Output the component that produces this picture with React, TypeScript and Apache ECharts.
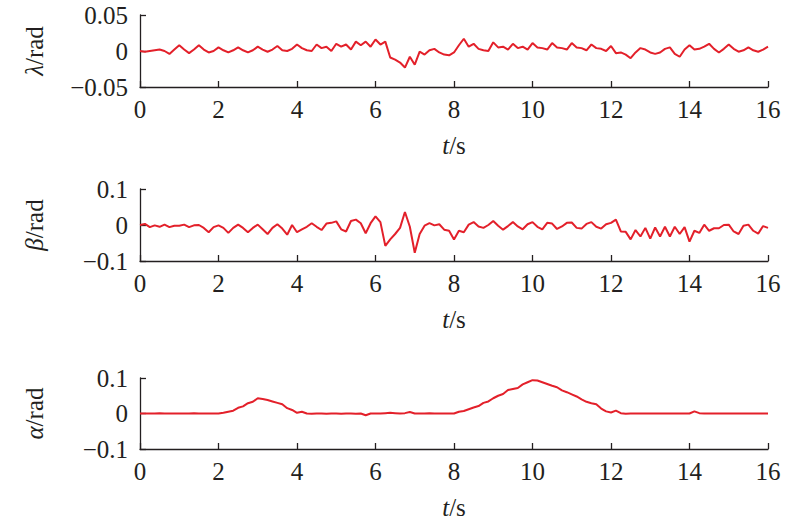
import React, { useEffect, useRef } from "react";
import * as echarts from "echarts";

// sampling step of the recorded signals (s)
const timeStep = 0.125;

// λ (rad)
const lambdaValues = [
  0, -0.001, 0, 0.001, 0.002, 0, -0.004, 0.002, 0.008,
  0.002, -0.003, 0.002, 0.008, 0.002, -0.002, 0, 0.005,
  0.001, -0.002, 0.001, 0.005, 0.001, -0.002, 0.001, 0.006,
  0.002, -0.001, 0.002, 0.007, 0.001, 0, 0.003, 0.009,
  0.004, 0.001, 0, 0.009, 0.004, 0.006, 0, 0.010,
  0.006, 0.009, 0.002, 0.013, 0.008, 0.013, 0.006, 0.016,
  0.009, 0.013, -0.009, -0.012, -0.016, -0.023, -0.008, -0.019,
  -0.001, -0.005, 0.001, 0.003, -0.002, -0.005, -0.006, -0.002,
  0.008, 0.017, 0.006, 0.010, 0.003, 0.001, 0, 0.012,
  0.005, 0.006, 0.002, 0.010, 0.004, 0.006, 0.002, 0.011,
  0.005, 0.004, 0.002, 0.011, 0.005, 0.004, 0.002, 0.011,
  0.005, 0.004, 0.001, 0.009, 0.004, 0.003, 0, 0.007,
  -0.003, -0.002, -0.005, -0.010, -0.002, 0.004, 0.002, -0.002,
  -0.004, -0.002, 0.003, 0.005, -0.004, -0.008, 0.002, 0.008,
  0.002, 0.003, 0.006, 0.010, 0.003, -0.002, 0.003, 0.009,
  0.003, -0.001, 0.001, 0.005, 0.001, -0.001, 0.002, 0.006,
];

// β (rad)
const betaValues = [
  0, 0.003, -0.006, -0.001, -0.005, 0.001, -0.006, -0.002, -0.002,
  0.001, -0.006, -0.001, 0, -0.008, -0.020, -0.006, -0.001,
  -0.008, -0.022, -0.008, 0.001, -0.008, -0.020, -0.008, 0.001,
  -0.012, -0.025, -0.008, 0.002, -0.010, -0.027, 0, -0.020,
  -0.012, -0.005, 0.005, -0.005, -0.014, 0.004, 0.006, 0.010,
  -0.012, -0.018, 0.011, 0.015, 0.005, -0.023, 0.005, 0.024,
  0.008, -0.058, -0.040, -0.025, -0.008, 0.036, -0.005, -0.077,
  -0.025, -0.002, 0.005, -0.001, 0.002, -0.013, -0.016, -0.040,
  -0.016, -0.020, 0.001, 0.008, -0.004, -0.008, 0, 0.011,
  -0.002, -0.013, -0.003, 0.008, -0.004, -0.012, 0.002, 0.008,
  -0.005, -0.012, 0.006, 0.004, -0.011, -0.004, 0.006, 0.007,
  -0.008, -0.010, 0.003, 0.008, -0.005, -0.010, 0.002, 0.006,
  0.015, -0.018, -0.019, -0.040, -0.014, -0.032, -0.008, -0.038,
  -0.007, -0.032, -0.005, -0.032, -0.005, -0.025, -0.006, -0.046,
  -0.016, -0.022, 0.001, -0.016, -0.009, -0.009, 0, 0.001,
  -0.018, -0.025, -0.002, 0.001, -0.016, -0.024, -0.003, -0.008,
];

// α (rad)
const alphaValues = [
  0, 0, 0, 0, 0.001, 0, 0, 0, 0,
  0, 0, 0.001, 0, 0, 0, 0, 0,
  0.002, 0.005, 0.008, 0.016, 0.020, 0.029, 0.033, 0.043,
  0.041, 0.038, 0.034, 0.030, 0.026, 0.015, 0.010, 0.002,
  0.005, 0, -0.001, 0, 0, -0.001, 0, 0,
  -0.001, 0, 0, -0.001, 0, -0.005, 0, 0,
  0, 0.001, 0.002, 0.001, 0, 0.001, 0.004, 0,
  0, 0, 0.001, 0, 0, 0, 0, 0,
  0.005, 0.007, 0.012, 0.017, 0.021, 0.030, 0.034, 0.043,
  0.050, 0.055, 0.066, 0.069, 0.072, 0.082, 0.088, 0.094,
  0.093, 0.088, 0.083, 0.078, 0.074, 0.065, 0.060, 0.054,
  0.048, 0.040, 0.033, 0.029, 0.026, 0.014, 0.006, 0.003,
  0.008, 0.001, -0.001, 0, 0, 0, 0, 0,
  0, 0, 0, 0, 0, 0, 0, 0,
  0.006, 0.001, 0, 0, 0, 0, 0, 0,
  0, 0, 0, 0, 0, 0, 0, 0,
];

const yNames = ["λ", "β", "α"];
const yLimits = [0.05, 0.1, 0.1];

const FONT = "Liberation Serif, Times New Roman, serif";
const INK = "#231f20";
const RED = "#e3202a";

const fmt = (v: number) => {
  const r = Math.round(v * 1000) / 1000;
  if (r === 0) return "0";
  return r < 0 ? "\u2212" + String(-r) : String(r);
};

export default function App() {
  const ref = useRef<HTMLDivElement>(null);
  useEffect(() => {
    if (!ref.current) return;
    const chart = echarts.init(ref.current, undefined, { renderer: "svg" });
    const allSeries = [lambdaValues, betaValues, alphaValues];
    const gridTops = [15, 189, 378];
    const grids = gridTops.map((top) => ({ left: 140, right: 32, top, height: 72 }));
    const textBase = { fontSize: 25, fontFamily: FONT, color: INK };
    const xAxes = grids.map((_, i) => ({
      gridIndex: i,
      type: "value",
      min: 0,
      max: 16,
      interval: 2,
      axisLine: { show: true, onZero: false, lineStyle: { color: INK, width: 1.3 } },
      axisTick: { show: true, inside: true, length: 6, lineStyle: { color: INK, width: 1.3 } },
      axisLabel: { ...textBase, margin: 10 },
      splitLine: { show: false },
      name: "{i|t}/s",
      nameLocation: "middle",
      nameGap: 46,
      nameTextStyle: { ...textBase, rich: { i: { ...textBase, fontStyle: "italic" } } },
    }));
    const yAxes = grids.map((_, i) => ({
      gridIndex: i,
      type: "value",
      min: -yLimits[i],
      max: yLimits[i],
      interval: yLimits[i],
      axisLine: { show: true, onZero: false, lineStyle: { color: INK, width: 1.3 } },
      axisTick: { show: true, inside: true, length: 6, lineStyle: { color: INK, width: 1.3 } },
      axisLabel: { ...textBase, margin: 12, formatter: fmt },
      splitLine: { show: false },
      name: `{i|${yNames[i]}}/rad`,
      nameLocation: "middle",
      nameGap: 93,
      nameTextStyle: { ...textBase, rich: { i: { ...textBase, fontStyle: "italic" } } },
    }));
    const series = allSeries.map((vals, i) => ({
      type: "line",
      xAxisIndex: i,
      yAxisIndex: i,
      data: vals.map((v, k) => [k * timeStep, v]),
      showSymbol: false,
      symbol: "none",
      lineStyle: { color: RED, width: 2 },
      z: 1,
    }));
    chart.setOption({
      animation: false,
      backgroundColor: "#ffffff",
      grid: grids,
      xAxis: xAxes,
      yAxis: yAxes,
      series,
    });
    return () => chart.dispose();
  }, []);
  return (
    <div
      ref={ref}
      style={{ position: "fixed", left: 0, top: 0, width: 800, height: 521, background: "#fff" }}
    />
  );
}
